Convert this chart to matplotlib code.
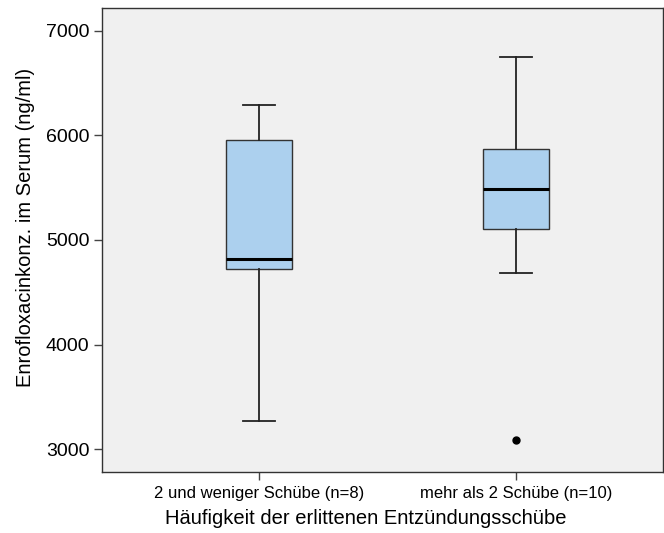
import matplotlib
matplotlib.use("Agg")
import matplotlib.pyplot as plt

plt.rcParams['font.family'] = ['Liberation Sans', 'DejaVu Sans']

categories = ["2 und weniger Schübe (n=8)", "mehr als 2 Schübe (n=10)"]
whisker_low = [3270, 4685]
q1 = [4725, 5105]
median = [4820, 5490]
q3 = [5960, 5872]
whisker_high = [6295, 6752]
outliers = [[], [3086]]
yticks = [3000, 4000, 5000, 6000, 7000]

stats = []
for i, name in enumerate(categories):
    stats.append(dict(label=name, whislo=whisker_low[i], q1=q1[i], med=median[i],
                      q3=q3[i], whishi=whisker_high[i], fliers=outliers[i]))

fig = plt.figure(figsize=(6.64, 5.33), dpi=100)
ax = fig.add_axes([102/664, 1-472/533, (663-102)/664, (472-8)/533])
ax.set_facecolor('#f0f0f0')

ax.bxp(stats, positions=[1, 2], widths=0.257, capwidths=0.125, patch_artist=True,
       boxprops=dict(facecolor='#acd0ee', edgecolor='#333333', linewidth=1.0),
       medianprops=dict(color='black', linewidth=2.2),
       whiskerprops=dict(color='#222222', linewidth=1.3),
       capprops=dict(color='#222222', linewidth=1.3),
       flierprops=dict(marker='o', markerfacecolor='black', markeredgecolor='black', markersize=5))

ax.set_xlim(0.389, 2.572)
ax.set_ylim(2780, 7220)
ax.set_yticks(yticks)
ax.set_yticklabels([str(t) for t in yticks], fontsize=14)
ax.set_xticks([1, 2])
ax.set_xticklabels(categories, fontsize=12)
ax.tick_params(axis='both', direction='out', length=6, width=1, color='#444444')
ax.tick_params(axis='y', pad=3)
ax.tick_params(axis='x', pad=4)
for s in ax.spines.values():
    s.set_color('#333333')
    s.set_linewidth(1.0)

ax.set_ylabel("Enrofloxacinkonz. im Serum (ng/ml)", fontsize=14.5)
ax.yaxis.set_label_coords(-0.12, 0.526)
ax.set_xlabel("Häufigkeit der erlittenen Entzündungsschübe", fontsize=14.5)
ax.xaxis.set_label_coords(0.47, -0.08)

fig.savefig("out.png", dpi=100)
